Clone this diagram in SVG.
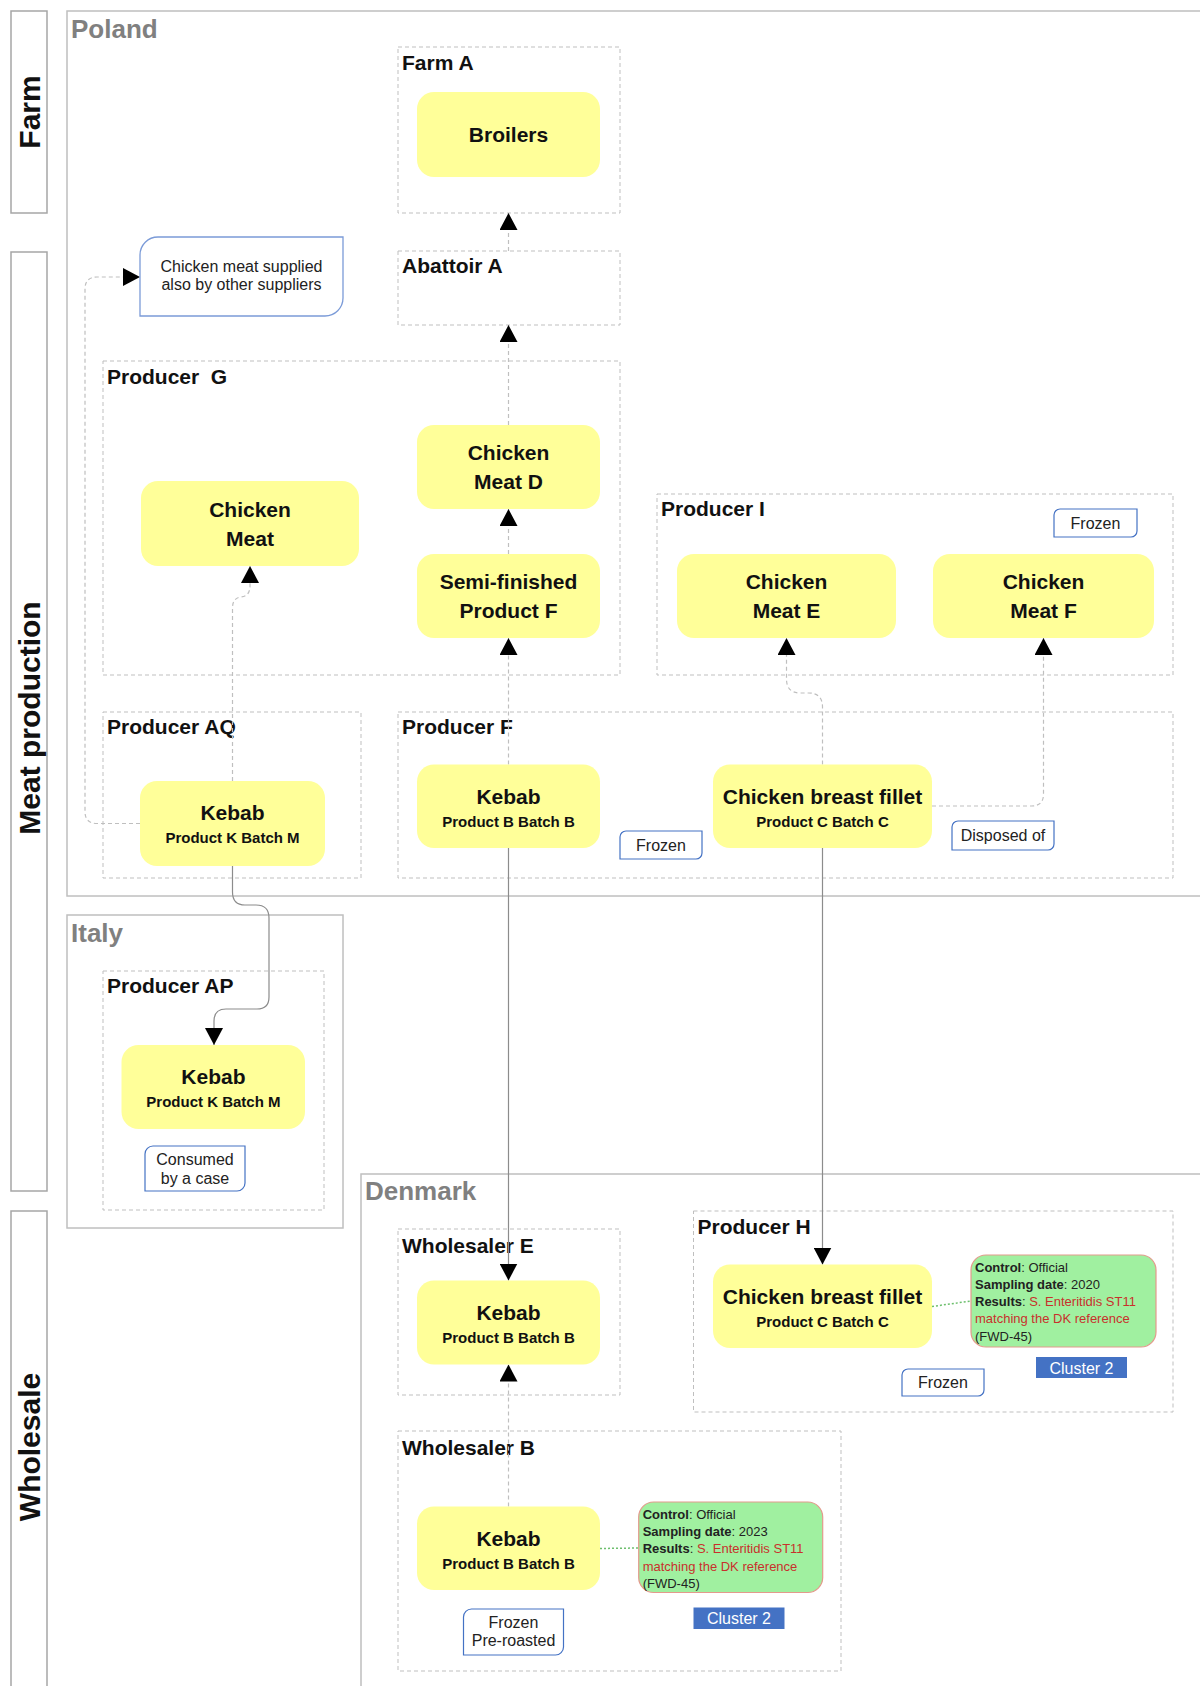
<svg xmlns="http://www.w3.org/2000/svg" width="1200" height="1686" viewBox="0 0 1200 1686">
<style>
text{font-family:"Liberation Sans",Arial,sans-serif;fill:#111}
.lane{fill:#fff;stroke:#A6A6A6;stroke-width:1.5}
.lanet{font-size:30px;font-weight:bold;text-anchor:middle}
.country{fill:none;stroke:#BFBFBF;stroke-width:1.5}
.ct{font-size:26px;font-weight:bold;fill:#808080}
.cont{fill:none;stroke:#BFBFBF;stroke-width:1;stroke-dasharray:4 3}
.cl{font-size:21px;font-weight:bold}
.node{fill:#FFFF99}
.nt{font-size:21px;font-weight:bold;text-anchor:middle}
.ns{font-size:15px;font-weight:bold;text-anchor:middle}
.tag{fill:#fff;stroke:#4472C4;stroke-width:1.2}
.callout{fill:#fff;stroke:#7B9BD8;stroke-width:1.3}
.tt{font-size:16px;text-anchor:middle;fill:#222}
.green{fill:#A0F0A0;stroke:#E39A8C;stroke-width:1.2}
.gt{font-size:13px;fill:#222}
.b{font-weight:bold}
.red{fill:#C8302C}
.cluster{fill:#4472C4}
.clt{font-size:16px;fill:#fff;text-anchor:middle}
.dash{fill:none;stroke:#BFBFBF;stroke-width:1.2;stroke-dasharray:4 3}
.solid{fill:none;stroke:#8C8C8C;stroke-width:1.2}
.dot{fill:none;stroke:#6DBF6D;stroke-width:1.5;stroke-dasharray:2 2}
</style>
<defs>
<marker id="arr" viewBox="0 0 17 18" refX="17" refY="9" markerWidth="17" markerHeight="18" markerUnits="userSpaceOnUse" orient="auto">
<path d="M0,0 L17,9 L0,18 Z" fill="#000"/>
</marker>
</defs>
<rect width="1200" height="1686" fill="#fff"/>

<g id="lanes">
<g id="lane-farm"><rect class="lane" x="11" y="11" width="36" height="202"/><text class="lanet" transform="translate(39.5,112) rotate(-90)">Farm</text></g>
<g id="lane-meat"><rect class="lane" x="11" y="252" width="36" height="939"/><text class="lanet" transform="translate(39.5,718) rotate(-90)">Meat production</text></g>
<g id="lane-wholesale"><rect class="lane" x="11" y="1211" width="36" height="500"/><text class="lanet" transform="translate(39.5,1447) rotate(-90)">Wholesale</text></g>
</g>

<g id="countries">
<g id="poland"><rect class="country" x="67" y="11" width="1150" height="885"/><text class="ct" x="71" y="38">Poland</text></g>
<g id="italy"><rect class="country" x="67" y="915" width="276" height="313"/><text class="ct" x="71" y="942">Italy</text></g>
<g id="denmark"><rect class="country" x="361" y="1174" width="860" height="530"/><text class="ct" x="365" y="1200">Denmark</text></g>
</g>

<g id="containers">
<g id="farm-a"><rect class="cont" x="398" y="47" width="222" height="166"/><text class="cl" x="402" y="70">Farm A</text></g>
<g id="abattoir-a"><rect class="cont" x="398" y="251" width="222" height="74"/><text class="cl" x="402" y="273">Abattoir A</text></g>
<g id="producer-g"><rect class="cont" x="103" y="361" width="517" height="314"/><text class="cl" x="107" y="384" xml:space="preserve">Producer  G</text></g>
<g id="producer-i"><rect class="cont" x="657" y="494" width="516" height="181"/><text class="cl" x="661" y="516">Producer I</text></g>
<g id="producer-aq"><rect class="cont" x="103" y="712" width="258" height="166"/><text class="cl" x="107" y="734">Producer AQ</text></g>
<g id="producer-f"><rect class="cont" x="398" y="712" width="775" height="166"/><text class="cl" x="402" y="734">Producer F</text></g>
<g id="producer-ap"><rect class="cont" x="103" y="971" width="221" height="239"/><text class="cl" x="107" y="993">Producer AP</text></g>
<g id="wholesaler-e"><rect class="cont" x="398" y="1229" width="222" height="166"/><text class="cl" x="402" y="1253">Wholesaler E</text></g>
<g id="producer-h"><rect class="cont" x="693.5" y="1211" width="479.5" height="201"/><text class="cl" x="697.5" y="1234">Producer H</text></g>
<g id="wholesaler-b"><rect class="cont" x="398" y="1431" width="443" height="240"/><text class="cl" x="402" y="1455">Wholesaler B</text></g>
</g>

<g id="connectors">
<path class="dash" d="M508.5,251 V213" marker-end="url(#arr)"/>
<path class="dash" d="M508.5,425 V325" marker-end="url(#arr)"/>
<path class="dash" d="M508.5,554 V509" marker-end="url(#arr)"/>
<path class="dash" d="M508.5,764.5 V638" marker-end="url(#arr)"/>
<path class="dash" d="M232.5,781 V608 Q232.5,598 241,597 Q250,596 250,586 V566" marker-end="url(#arr)"/>
<path class="dash" d="M140,823.5 H97 Q85,823.5 85,811.5 V289 Q85,277 97,277 H140" marker-end="url(#arr)"/>
<path class="solid" d="M232.5,866 V892 Q232.5,905 245,905 H256 Q269,905 269,918 V997 Q269,1009 257,1009 H226 Q214,1009 214,1021 V1045" marker-end="url(#arr)"/>
<path class="solid" d="M508.5,848 V1280.5" marker-end="url(#arr)"/>
<path class="solid" d="M822.5,848 V1264.5" marker-end="url(#arr)"/>
<path class="dash" d="M822.5,764.5 V707 Q822.5,693 808.5,693 H800.5 Q786.5,693 786.5,679 V638" marker-end="url(#arr)"/>
<path class="dash" d="M932,806 H1031.5 Q1043.5,806 1043.5,794 V638" marker-end="url(#arr)"/>
<path class="dash" d="M508.5,1506.5 V1364.5" marker-end="url(#arr)"/>
<path class="dot" d="M932,1306.5 L971,1301"/>
<path class="dot" d="M600,1548.5 L638.7,1548"/>
</g>

<g id="callout-other-suppliers">
<path class="callout" d="M158,237 H343 V298 A18,18 0 0 1 325,316 H140 V255 A18,18 0 0 1 158,237 Z"/>
<text class="tt" x="241.5" y="272">Chicken meat supplied</text>
<text class="tt" x="241.5" y="290">also by other suppliers</text>
</g>

<g id="broilers"><rect class="node" x="417" y="92" width="183" height="85" rx="17"/><text class="nt" x="508.5" y="142">Broilers</text></g>
<g id="chicken-meat-d"><rect class="node" x="417" y="425" width="183" height="84" rx="17"/><text class="nt" x="508.5" y="460">Chicken</text><text class="nt" x="508.5" y="489">Meat D</text></g>
<g id="semi-finished-f"><rect class="node" x="417" y="554" width="183" height="84" rx="17"/><text class="nt" x="508.5" y="589">Semi-finished</text><text class="nt" x="508.5" y="618">Product F</text></g>
<g id="chicken-meat-g"><rect class="node" x="141" y="481" width="218" height="85" rx="17"/><text class="nt" x="250" y="516.5">Chicken</text><text class="nt" x="250" y="545.5">Meat</text></g>
<g id="chicken-meat-e"><rect class="node" x="677" y="554" width="219" height="84" rx="17"/><text class="nt" x="786.5" y="589">Chicken</text><text class="nt" x="786.5" y="618">Meat E</text></g>
<g id="chicken-meat-f"><rect class="node" x="933" y="554" width="221" height="84" rx="17"/><text class="nt" x="1043.5" y="589">Chicken</text><text class="nt" x="1043.5" y="618">Meat F</text></g>
<g id="kebab-aq"><rect class="node" x="140" y="781" width="185" height="85" rx="17"/><text class="nt" x="232.5" y="820">Kebab</text><text class="ns" x="232.5" y="843">Product K Batch M</text></g>
<g id="kebab-f"><rect class="node" x="417" y="764.5" width="183" height="83.5" rx="17"/><text class="nt" x="508.5" y="803.5">Kebab</text><text class="ns" x="508.5" y="826.5">Product B Batch B</text></g>
<g id="fillet-f"><rect class="node" x="713" y="764.5" width="219" height="83.5" rx="17"/><text class="nt" x="822.5" y="803.5">Chicken breast fillet</text><text class="ns" x="822.5" y="826.5">Product C Batch C</text></g>
<g id="kebab-ap"><rect class="node" x="121.5" y="1045" width="183.5" height="84" rx="17"/><text class="nt" x="213.4" y="1084">Kebab</text><text class="ns" x="213.4" y="1107">Product K Batch M</text></g>
<g id="kebab-e"><rect class="node" x="417" y="1280.5" width="183" height="84" rx="17"/><text class="nt" x="508.5" y="1319.5">Kebab</text><text class="ns" x="508.5" y="1342.5">Product B Batch B</text></g>
<g id="fillet-h"><rect class="node" x="713" y="1264.5" width="219" height="83.5" rx="17"/><text class="nt" x="822.5" y="1303.5">Chicken breast fillet</text><text class="ns" x="822.5" y="1326.5">Product C Batch C</text></g>
<g id="kebab-b"><rect class="node" x="417" y="1506.5" width="183" height="83.5" rx="17"/><text class="nt" x="508.5" y="1545.5">Kebab</text><text class="ns" x="508.5" y="1568.5">Product B Batch B</text></g>

<g id="tag-frozen-i"><path class="tag" d="M1060,509 H1137 V531 A6,6 0 0 1 1131,537 H1054 V515 A6,6 0 0 1 1060,509 Z"/><text class="tt" x="1095.5" y="528.5">Frozen</text></g>
<g id="tag-frozen-f"><path class="tag" d="M626,831 H702 V853 A6,6 0 0 1 696,859 H620 V837 A6,6 0 0 1 626,831 Z"/><text class="tt" x="661" y="850.5">Frozen</text></g>
<g id="tag-disposed"><path class="tag" d="M958,821 H1054 V844 A6,6 0 0 1 1048,850 H952 V827 A6,6 0 0 1 958,821 Z"/><text class="tt" x="1003" y="841">Disposed of</text></g>
<g id="tag-consumed"><path class="tag" d="M153,1146 H245 V1183 A8,8 0 0 1 237,1191 H145 V1154 A8,8 0 0 1 153,1146 Z"/><text class="tt" x="195" y="1165">Consumed</text><text class="tt" x="195" y="1183.5">by a case</text></g>
<g id="tag-frozen-h"><path class="tag" d="M908,1369 H984 V1390 A6,6 0 0 1 978,1396 H902 V1375 A6,6 0 0 1 908,1369 Z"/><text class="tt" x="943" y="1388">Frozen</text></g>
<g id="tag-preroasted"><path class="tag" d="M471.5,1609 H563.5 V1647 A8,8 0 0 1 555.5,1655 H463.5 V1617 A8,8 0 0 1 471.5,1609 Z"/><text class="tt" x="513.5" y="1628">Frozen</text><text class="tt" x="513.5" y="1646">Pre-roasted</text></g>

<g id="result-h">
<rect class="green" x="971" y="1255" width="185" height="92" rx="15"/>
<text class="gt" x="975" y="1272"><tspan class="b">Control</tspan>: Official</text>
<text class="gt" x="975" y="1289"><tspan class="b">Sampling date</tspan>: 2020</text>
<text class="gt" x="975" y="1306"><tspan class="b">Results</tspan>: <tspan class="red">S. Enteritidis ST11</tspan></text>
<text class="gt red" x="975" y="1323">matching the DK reference</text>
<text class="gt" x="975" y="1340.5">(FWD-45)</text>
</g>
<g id="cluster-h"><rect class="cluster" x="1036" y="1357" width="91" height="21"/><text class="clt" x="1081.5" y="1373.5">Cluster 2</text></g>

<g id="result-b">
<rect class="green" x="638.7" y="1502" width="184" height="90.5" rx="15"/>
<text class="gt" x="642.7" y="1518.7"><tspan class="b">Control</tspan>: Official</text>
<text class="gt" x="642.7" y="1536"><tspan class="b">Sampling date</tspan>: 2023</text>
<text class="gt" x="642.7" y="1553.3"><tspan class="b">Results</tspan>: <tspan class="red">S. Enteritidis ST11</tspan></text>
<text class="gt red" x="642.7" y="1570.6">matching the DK reference</text>
<text class="gt" x="642.7" y="1588">(FWD-45)</text>
</g>
<g id="cluster-b"><rect class="cluster" x="693.5" y="1607.5" width="91" height="21.5"/><text class="clt" x="739" y="1624">Cluster 2</text></g>
</svg>
